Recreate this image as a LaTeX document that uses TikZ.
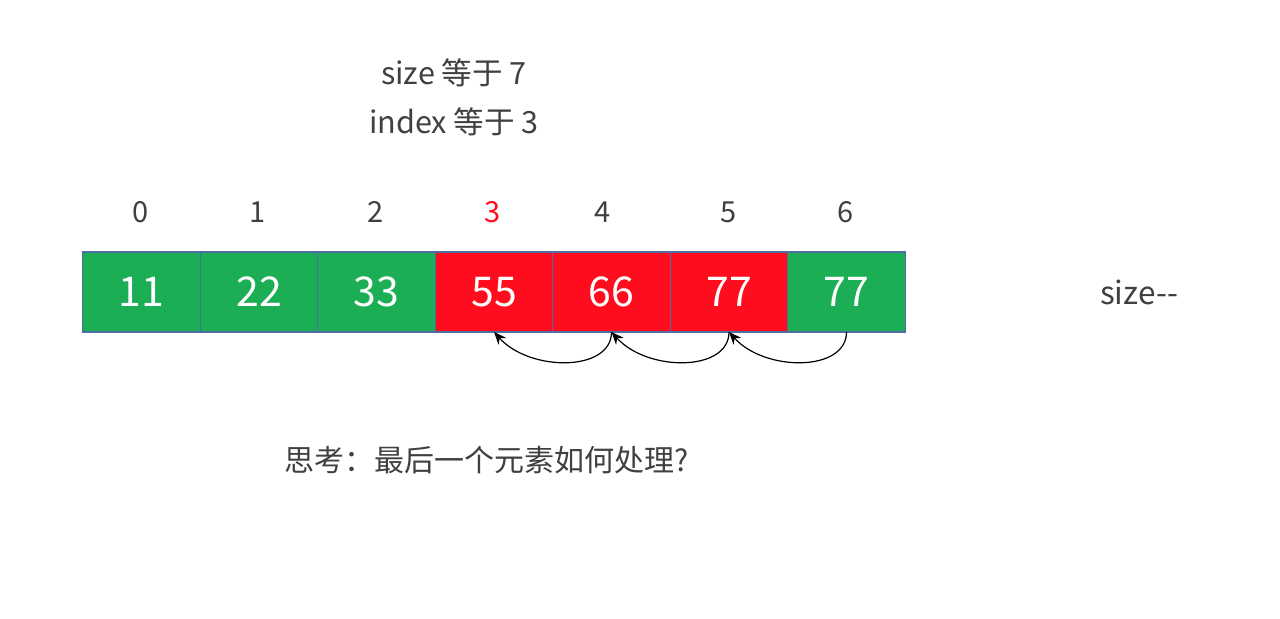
\documentclass[tikz,border=0pt]{standalone}
\usepackage{fontspec}
\newfontfamily\cjk{Noto Sans CJK SC}
\usepackage{tikz}
\usetikzlibrary{positioning,arrows.meta}
\usepackage{xcolor}
\definecolor{CellGreen}{RGB}{27,174,84}
\definecolor{CellRed}{RGB}{255,12,30}
\definecolor{CellEdge}{RGB}{79,109,160}
\definecolor{TextGray}{RGB}{64,64,64}

\begin{document}
\begin{tikzpicture}[
x=0.5pt,y=-0.5pt,
node distance=0pt,
cell/.style={rectangle,draw=CellEdge,line width=0.6pt,outer sep=0pt,
minimum width=58.75pt,minimum height=40pt,text=white,
font=\cjk\fontsize{20.5}{24}\selectfont},
green/.style={cell,fill=CellGreen},
red/.style={cell,fill=CellRed},
idx/.style={text=TextGray,font=\cjk\fontsize{14.5}{17}\selectfont},
note/.style={text=TextGray,font=\cjk\fontsize{15.3}{18}\selectfont},
back/.style={-{Stealth[length=2.2mm,width=1.8mm]},line width=0.6pt,draw=black}
]
\useasboundingbox[fill=white] (0,0) rectangle (1280,618);
\node[note] (size) at (454,73) {size 等于 7};
\node[note] (index) at (454,122) {index 等于 3};
\node[green] (c0) at (141.5,292) {11};
\node[green,right=of c0] (c1) {22};
\node[green,right=of c1] (c2) {33};
\node[red,right=of c2] (c3) {55};
\node[red,right=of c3] (c4) {66};
\node[red,right=of c4] (c5) {77};
\node[green,right=of c5] (c6) {77};
\node[idx] (i0) at (141,212) {0};
\node[idx] (i1) at (258,212) {1};
\node[idx] (i2) at (376,212) {2};
\node[idx,text=CellRed] (i3) at (493,212) {3};
\node[idx] (i4) at (603,212) {4};
\node[idx] (i5) at (729,212) {5};
\node[idx] (i6) at (846,212) {6};
\node[note,font=\cjk\fontsize{15.8}{18}\selectfont] (dec) at (1139,292) {size--};
\draw[back] (c6.south) .. controls +(0,40) and +(36,40) .. (c5.south);
\draw[back] (c5.south) .. controls +(0,40) and +(36,40) .. (c4.south);
\draw[back] (c4.south) .. controls +(0,40) and +(36,40) .. (c3.south);
\node[note,font=\cjk\fontsize{15}{18}\selectfont] (think) at (487,460) {思考：最后一个元素如何处理?};
\end{tikzpicture}
\end{document}
